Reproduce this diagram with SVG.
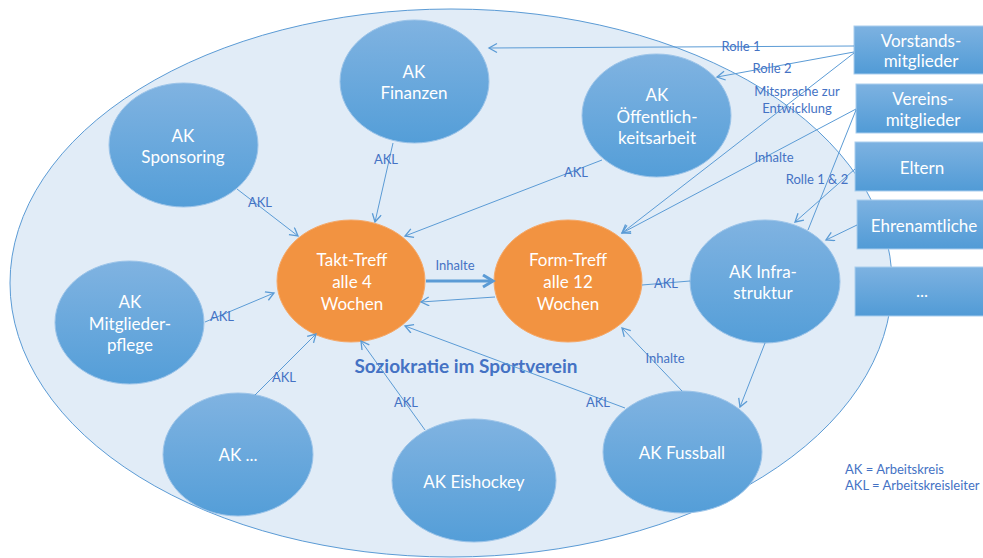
<svg xmlns="http://www.w3.org/2000/svg" width="983" height="558" viewBox="0 0 983 558">
<defs>
<linearGradient id="gb" x1="0" y1="0" x2="0" y2="1">
<stop offset="0" stop-color="#80B3E1"/>
<stop offset="1" stop-color="#549ED8"/>
</linearGradient>
<linearGradient id="gr" x1="0" y1="0" x2="0" y2="1">
<stop offset="0" stop-color="#7DB2E1"/>
<stop offset="1" stop-color="#519BD6"/>
</linearGradient>
<marker id="ar" markerUnits="userSpaceOnUse" markerWidth="12" markerHeight="12" refX="9" refY="5" orient="auto">
<path d="M1,0.5 L9,5 L1,9.5" fill="none" stroke="#5B9BD5" stroke-width="1.3"/>
</marker>
<marker id="arb" markerUnits="userSpaceOnUse" markerWidth="16" markerHeight="16" refX="12" refY="7" orient="auto">
<path d="M2,1 L12,7 L2,13" fill="none" stroke="#5B9BD5" stroke-width="3"/>
</marker>
</defs>
<style>
.n{fill:url(#gb);stroke:#9CC4E9;stroke-width:1}
.o{fill:#F29341;stroke:#F5A868;stroke-width:1}
.b{fill:url(#gr);stroke:#A9CDEE;stroke-width:1}
.t{font-family:Lato,"Open Sans",sans-serif;font-size:17px;fill:#FFFFFF;text-anchor:middle}
.l{font-family:Lato,"Open Sans",sans-serif;font-size:13px;fill:#4472C4;text-anchor:middle}
.c{fill:none;stroke:#5B9BD5;stroke-width:1}
</style>
<rect width="983" height="558" fill="#FFFFFF"/>
<ellipse id="verein" cx="451" cy="283" rx="441" ry="274" fill="#E1ECF7" stroke="#5B9BD5" stroke-width="1"/>
<text x="466" y="373" font-family="Lato,'Open Sans',sans-serif" font-size="19" font-weight="bold" fill="#4472C4" text-anchor="middle">Soziokratie im Sportverein</text>

<g id="ak-finanzen"><ellipse class="n" cx="414.5" cy="81.5" rx="74.5" ry="61.5"/><text class="t" x="414" y="78">AK</text><text class="t" x="414" y="99">Finanzen</text></g>
<g id="ak-sponsoring"><ellipse class="n" cx="183.5" cy="145" rx="74.5" ry="62"/><text class="t" x="183" y="142">AK</text><text class="t" x="183" y="163">Sponsoring</text></g>
<g id="ak-oeffentlichkeitsarbeit"><ellipse class="n" cx="656.5" cy="115.5" rx="74.5" ry="61.5"/><text class="t" x="657" y="101">AK</text><text class="t" x="657" y="123">Öffentlich-</text><text class="t" x="657" y="144">keitsarbeit</text></g>
<g id="takt-treff"><ellipse class="o" cx="351" cy="281" rx="74" ry="61"/><text class="t" x="352" y="266">Takt-Treff</text><text class="t" x="352" y="288">alle 4</text><text class="t" x="352" y="310">Wochen</text></g>
<g id="form-treff"><ellipse class="o" cx="568" cy="281" rx="74" ry="61"/><text class="t" x="568" y="266">Form-Treff</text><text class="t" x="568" y="288">alle 12</text><text class="t" x="568" y="310">Wochen</text></g>
<g id="ak-infrastruktur"><ellipse class="n" cx="765" cy="281.5" rx="75" ry="61.5"/><text class="t" x="763" y="278">AK Infra-</text><text class="t" x="763" y="299">struktur</text></g>
<g id="ak-mitgliederpflege"><ellipse class="n" cx="129.5" cy="322.5" rx="74.5" ry="61.5"/><text class="t" x="130" y="308">AK</text><text class="t" x="130" y="330">Mitglieder-</text><text class="t" x="130" y="351">pflege</text></g>
<g id="ak-weitere"><ellipse class="n" cx="238" cy="454.5" rx="75" ry="61.5"/><text class="t" x="238" y="461">AK ...</text></g>
<g id="ak-eishockey"><ellipse class="n" cx="474" cy="480.5" rx="82" ry="61.5"/><text class="t" x="474" y="488">AK Eishockey</text></g>
<g id="ak-fussball"><ellipse class="n" cx="682.5" cy="452" rx="79.5" ry="61"/><text class="t" x="682" y="459">AK Fussball</text></g>

<g id="vorstandsmitglieder"><rect class="b" x="854" y="26" width="140" height="48"/><text class="t" x="921" y="47">Vorstands-</text><text class="t" x="921" y="67">mitglieder</text></g>
<g id="vereinsmitglieder"><rect class="b" x="856" y="84" width="140" height="49"/><text class="t" x="923" y="105">Vereins-</text><text class="t" x="923" y="126">mitglieder</text></g>
<g id="eltern"><rect class="b" x="855" y="142" width="140" height="49"/><text class="t" x="922" y="174">Eltern</text></g>
<g id="ehrenamtliche"><rect class="b" x="857" y="200" width="140" height="49"/><text class="t" x="924" y="232">Ehrenamtliche</text></g>
<g id="weitere"><rect class="b" x="855" y="267" width="140" height="49"/><text class="t" x="922" y="297">...</text></g>

<g id="connectors">
<line class="c" x1="393" y1="143" x2="375" y2="222" marker-end="url(#ar)"/>
<line class="c" x1="237" y1="189" x2="298" y2="236" marker-end="url(#ar)"/>
<line class="c" x1="602" y1="160" x2="405" y2="236" marker-end="url(#ar)"/>
<line class="c" x1="205" y1="322" x2="274" y2="293" marker-end="url(#ar)"/>
<line class="c" x1="255" y1="395" x2="316" y2="334" marker-end="url(#ar)"/>
<line class="c" x1="425" y1="430" x2="361" y2="341" marker-end="url(#ar)"/>
<line class="c" x1="625" y1="408" x2="405" y2="326" marker-end="url(#ar)"/>
<line x1="426" y1="281" x2="493" y2="281" fill="none" stroke="#5B9BD5" stroke-width="3" marker-end="url(#arb)"/>
<line class="c" x1="495" y1="297" x2="421" y2="302" marker-end="url(#ar)"/>
<line class="c" x1="690" y1="281" x2="642" y2="285"/>
<line class="c" x1="682" y1="391" x2="622" y2="328" marker-end="url(#ar)"/>
<line class="c" x1="765" y1="343" x2="740" y2="407" marker-end="url(#ar)"/>
<line class="c" x1="854" y1="46" x2="489" y2="48" marker-end="url(#ar)"/>
<line class="c" x1="854" y1="52" x2="717" y2="77" marker-end="url(#ar)"/>
<line class="c" x1="854" y1="53" x2="622" y2="233" marker-end="url(#ar)"/>
<line class="c" x1="856" y1="109" x2="622" y2="233" marker-end="url(#ar)"/>
<line class="c" x1="856" y1="110" x2="808" y2="230"/>
<line class="c" x1="855" y1="169" x2="795" y2="222" marker-end="url(#ar)"/>
<line class="c" x1="857" y1="225" x2="826" y2="240" marker-end="url(#ar)"/>
<text class="l" x="386" y="164">AKL</text>
<text class="l" x="260" y="207">AKL</text>
<text class="l" x="576" y="177">AKL</text>
<text class="l" x="222" y="321">AKL</text>
<text class="l" x="284" y="382">AKL</text>
<text class="l" x="406" y="407">AKL</text>
<text class="l" x="598" y="407">AKL</text>
<text class="l" x="666" y="288">AKL</text>
<text class="l" x="455" y="270">Inhalte</text>
<text class="l" x="665" y="363">Inhalte</text>
<text class="l" x="774" y="162">Inhalte</text>
<text class="l" x="741" y="51">Rolle 1</text>
<text class="l" x="772" y="73">Rolle 2</text>
<text class="l" x="797" y="96">Mitsprache zur</text>
<text class="l" x="797" y="113">Entwicklung</text>
<text class="l" x="817" y="184">Rolle 1 &amp; 2</text>
</g>
<text x="845" y="474" font-family="Lato,'Open Sans',sans-serif" font-size="13" fill="#4472C4">AK = Arbeitskreis</text>
<text x="845" y="490" font-family="Lato,'Open Sans',sans-serif" font-size="13" fill="#4472C4">AKL = Arbeitskreisleiter</text>
</svg>
